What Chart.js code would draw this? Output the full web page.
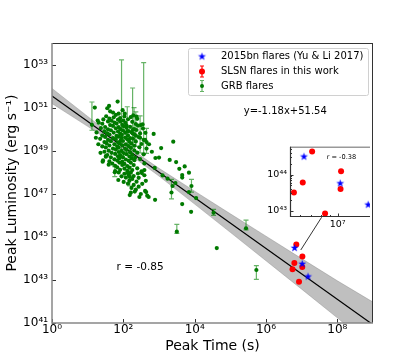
<!DOCTYPE html>
<html>
<head>
<meta charset="utf-8">
<script src="https://cdn.jsdelivr.net/npm/chart.js@4"></script>
<style>
html,body{margin:0;padding:0;background:#fff;}
#wrap{position:relative;width:415px;height:363px;overflow:hidden;}
#main{position:absolute;left:0;top:0;}
#inset{position:absolute;left:258px;top:138px;z-index:2;}
</style>
</head>
<body>
<div id="wrap">
<canvas id="main" width="415" height="363" style="width:415px;height:363px"></canvas>
<canvas id="inset" width="117" height="95" style="width:117px;height:95px"></canvas>
</div>
<script>
// ---------- data (log10 values) ----------
const legendLabels = ['2015bn flares (Yu & Li 2017)', 'SLSN flares in this work', 'GRB flares'];

// GRB flares: log10 peak time (s)
const grbLogTime = [
  1.55,
  1.63, 1.98,
  1.71, 1.87,
  1.52, 1.79, 2.03, 2.28,
  1.61, 1.73, 1.91, 2.21, 2.39,
  1.44, 1.67, 1.85, 2.00, 2.13,
  1.31, 1.57, 1.75, 1.91, 2.06, 2.25,
  1.41, 1.63, 1.81, 1.97, 2.09, 2.35, 2.49,
  1.49, 1.71, 1.87, 2.01, 2.19, 2.41,
  1.37, 1.57, 1.79, 1.92, 2.09, 2.27, 2.55,
  1.47, 1.65, 1.85, 1.99, 2.15, 2.37,
  1.25, 1.55, 1.73, 1.91, 2.05, 2.23, 2.47,
  1.41, 1.61, 1.81, 1.96, 2.13, 2.31,
  1.23, 1.49, 1.71, 1.87, 2.05, 2.19, 2.43,
  1.35, 1.57, 1.79, 1.93, 2.11, 2.27, 2.61,
  1.47, 1.65, 1.85, 1.99, 2.17, 2.35,
  1.53, 1.75, 1.89, 2.07, 2.23, 2.51,
  1.41, 1.61, 1.83, 1.97, 2.15, 2.31,
  1.51, 1.71, 1.87, 2.05, 2.21, 2.45, 2.65,
  1.59, 1.79, 1.95, 2.09, 2.31,
  1.47, 1.67, 1.87, 2.01, 2.19, 2.39,
  1.55, 1.77, 1.91, 2.09, 2.25, 2.57,
  1.51, 1.65, 1.85, 1.99, 2.17, 2.33,
  1.75, 1.89, 2.07, 2.23, 2.47,
  1.43, 1.61, 1.83, 1.97, 2.15, 2.31,
  1.69, 1.89, 2.03, 2.21, 2.59,
  1.59, 1.77, 1.97, 2.11, 2.29,
  1.83, 2.03, 2.17, 2.39,
  1.77, 1.91, 2.11, 2.25, 2.51,
  1.87, 2.03, 2.21, 2.41,
  1.95, 2.15, 2.29, 2.59,
  2.07, 2.25, 2.43,
  2.01, 2.17, 2.37, 2.63,
  2.13, 2.29, 2.53,
  2.23, 2.43,
  2.35, 2.61,
  2.21, 2.49,
  2.45, 2.67,
  1.20, 1.84, 1.60, 1.28, 2.04, 2.37, 2.54, 2.62, 2.85, 3.06,
  3.40, 2.90, 3.00, 3.30, 3.48, 3.57, 3.72, 3.84, 2.88, 2.59,
  2.52, 3.65, 3.65, 3.10, 3.24, 3.38, 3.84, 4.04, 3.65, 2.89,
  2.71, 2.64, 2.18, 3.90, 4.62, 1.86, 2.32, 3.46, 1.42, 1.51,
  1.36, 1.30, 2.72, 2.80
];
// GRB flares: log10 peak luminosity (erg/s)
const grbLogLum = [
  50.97,
  50.83, 50.88,
  50.77, 50.72,
  50.60, 50.66, 50.59, 50.64,
  50.49, 50.55, 50.51, 50.56, 50.48,
  50.45, 50.39, 50.44, 50.40, 50.46,
  50.30, 50.36, 50.31, 50.35, 50.29, 50.34,
  50.25, 50.19, 50.26, 50.20, 50.17, 50.24, 50.19,
  50.10, 50.15, 50.09, 50.14, 50.11, 50.16,
  50.05, 49.99, 50.04, 50.00, 50.06, 49.98, 50.03,
  49.90, 49.95, 49.89, 49.94, 49.91, 49.96,
  49.85, 49.80, 49.84, 49.79, 49.83, 49.86, 49.80,
  49.70, 49.75, 49.69, 49.74, 49.71, 49.76,
  49.60, 49.64, 49.59, 49.65, 49.61, 49.58, 49.63,
  49.55, 49.50, 49.54, 49.49, 49.53, 49.56, 49.50,
  49.40, 49.44, 49.39, 49.45, 49.41, 49.43,
  49.35, 49.30, 49.34, 49.29, 49.33, 49.31,
  49.20, 49.24, 49.19, 49.25, 49.21, 49.23,
  49.15, 49.10, 49.14, 49.09, 49.13, 49.16, 49.10,
  49.00, 49.05, 48.99, 49.04, 49.01,
  48.95, 48.90, 48.94, 48.89, 48.93, 48.91,
  48.80, 48.85, 48.79, 48.84, 48.81, 48.83,
  48.75, 48.69, 48.74, 48.70, 48.73, 48.68,
  48.60, 48.65, 48.59, 48.64, 48.61,
  48.55, 48.50, 48.54, 48.49, 48.53, 48.56,
  48.40, 48.45, 48.39, 48.44, 48.41,
  48.35, 48.30, 48.34, 48.29, 48.33,
  48.23, 48.17, 48.22, 48.18,
  48.05, 48.11, 48.06, 48.10, 48.04,
  47.99, 47.93, 47.98, 47.94,
  47.81, 47.87, 47.82, 47.86,
  47.75, 47.69, 47.74,
  47.55, 47.61, 47.56, 47.60,
  47.47, 47.41, 47.46,
  47.27, 47.33,
  47.19, 47.13,
  47.05, 46.99,
  46.85, 46.91,
  51.00, 51.28, 51.08, 50.40, 50.72, 50.58, 50.22, 49.83, 49.78, 49.12,
  49.42, 48.66, 48.68, 48.57, 48.47, 48.16, 48.27, 47.98, 48.20, 48.10,
  47.96, 47.87, 47.75, 47.85, 47.70, 47.36, 47.08, 46.80, 46.52, 46.72,
  46.85, 47.08, 46.94, 46.16, 44.48, 47.64, 47.10, 47.50, 48.49, 48.72,
  48.90, 49.30, 49.30, 48.95
];

// GRB flares that carry visible error bars (log10 values)
const grbErrLogTime = [1.12, 1.95, 2.26, 2.57, 2.11, 2.30, 2.35, 2.47, 2.65, 1.76, 2.13, 2.18, 3.91, 3.35, 4.53, 5.44, 3.50, 5.73];
const grbErrLogLum  = [50.20, 49.60, 49.80, 49.50, 49.90, 50.00, 49.70, 49.60, 49.40, 48.00, 47.95, 47.80, 47.36, 47.06, 46.12, 45.40, 45.24, 43.46];
const grbErrLogLow  = [49.95, 48.90, 49.10, 48.85, 49.30, 49.40, 49.20, 48.90, 48.88, 47.80, 47.72, 47.36, 47.08, 46.76, 46.00, 45.32, 45.16, 43.03];
const grbErrLogHigh = [51.26, 53.22, 51.91, 53.09, 51.04, 51.00, 50.80, 50.62, 50.04, 48.26, 48.26, 48.26, 47.67, 47.67, 46.28, 45.78, 45.58, 43.66];

// SLSN flares (this work)
const slsnLogTime = [6.850, 7.020, 6.795, 6.743, 7.017, 6.926];
const slsnLogLum  = [44.64, 44.09, 43.78, 43.50, 43.60, 42.92];

// 2015bn flares (Yu & Li 2017)
const bnLogTime = [6.802, 7.015, 7.179];
const bnLogLum  = [44.51, 43.77, 43.18];

// best fit y = -1.18x + 51.54 and its confidence band
const fitLogTime = [0, 9];
const fitLogLum  = [51.54, 40.92];
const bandLogTime  = [0, 1, 2, 3, 4, 5, 6, 7, 8, 9];
const bandLogUpper = [51.89, 50.59, 49.32, 48.18, 47.12, 46.07, 45.03, 43.99, 42.96, 41.97];
const bandLogLower = [51.19, 50.13, 49.04, 47.82, 46.52, 45.21, 43.89, 42.57, 41.24, 39.87];

// tick labels
const tickExpX = [0, 2, 4, 6, 8];
const tickExpY = [41, 43, 45, 47, 49, 51, 53];
const insetTickExpX = [7];
const insetTickExpY = [43, 44];
const insetMinorX = [6e6, 7e6, 8e6, 9e6];
const insetMinorY = [2e43, 3e43, 4e43, 5e43, 6e43, 7e43, 8e43, 9e43, 2e44, 3e44, 4e44, 5e44];

const fitText = 'y=-1.18x+51.54';
const rMainText = 'r = -0.85';
const rInsetText = 'r = -0.38';

// ---------- helpers ----------
Chart.defaults.font.family = "'DejaVu Sans', sans-serif";
Chart.defaults.color = '#000';
const P = v => Math.pow(10, v);
const xy = (ts, ls) => ts.map((t, i) => ({x: P(t), y: P(ls[i])}));
const SUP = {'0':'⁰','1':'¹','2':'²','3':'³','4':'⁴','5':'⁵','6':'⁶','7':'⁷','8':'⁸','9':'⁹','-':'⁻'};
const powLabel = v => '10' + String(Math.round(Math.log10(v))).split('').map(c => SUP[c]).join('');

function makeStar(r, color) {
  const s = Math.ceil(r * 2 + 2);
  const c = document.createElement('canvas');
  c.width = s; c.height = s;
  const g = c.getContext('2d');
  g.fillStyle = color;
  g.beginPath();
  for (let k = 0; k < 10; k++) {
    const rr = k % 2 ? r * 0.40 : r;
    const a = -Math.PI / 2 + k * Math.PI / 5;
    g.lineTo(s / 2 + rr * Math.cos(a), s / 2 + 0.6 + rr * Math.sin(a));
  }
  g.closePath();
  g.fill();
  return c;
}
const starImg = makeStar(4.2, '#0000ff');

const GREEN = '#007a00';
const GREEN_ERR = 'rgba(0,128,0,0.6)';
const RED = '#ff0000';

function errBar(ctx, x, y1, y2, cap) {
  ctx.beginPath();
  ctx.moveTo(x, y1); ctx.lineTo(x, y2);
  ctx.moveTo(x - cap, y1); ctx.lineTo(x + cap, y1);
  ctx.moveTo(x - cap, y2); ctx.lineTo(x + cap, y2);
  ctx.stroke();
}

const errorBarPlugin = {
  id: 'grbErrorBars',
  beforeDatasetDraw(chart, args) {
    if (chart.data.datasets[args.index].label !== legendLabels[2]) return;
    const {ctx, chartArea: a, scales: {x, y}} = chart;
    ctx.save();
    ctx.beginPath(); ctx.rect(a.left, a.top, a.right - a.left, a.bottom - a.top); ctx.clip();
    ctx.strokeStyle = GREEN_ERR; ctx.lineWidth = 1.2;
    grbErrLogTime.forEach((t, i) => {
      const px = x.getPixelForValue(P(t));
      errBar(ctx, px, y.getPixelForValue(P(grbErrLogLow[i])), y.getPixelForValue(P(grbErrLogHigh[i])), 2.5);
    });
    ctx.restore();
  }
};

const mainDecor = {
  id: 'mainDecor',
  afterDraw(chart) {
    const {ctx, chartArea: a, scales: {x, y}} = chart;
    ctx.save();
    // connector from data cluster to inset
    ctx.strokeStyle = '#000'; ctx.lineWidth = 0.8;
    ctx.beginPath();
    ctx.moveTo(x.getPixelForValue(P(6.975)), y.getPixelForValue(P(44.39)));
    ctx.lineTo(x.getPixelForValue(P(7.56)), y.getPixelForValue(P(45.91)));
    ctx.stroke();
    // inward tick marks
    ctx.strokeStyle = '#333'; ctx.lineWidth = 1;
    x.ticks.forEach(t => { const px = Math.round(x.getPixelForValue(t.value)) + 0.5; ctx.beginPath(); ctx.moveTo(px, a.bottom); ctx.lineTo(px, a.bottom - 4); ctx.stroke(); });
    y.ticks.forEach(t => { const py = Math.round(y.getPixelForValue(t.value)) + 0.5; ctx.beginPath(); ctx.moveTo(a.left, py); ctx.lineTo(a.left + 4, py); ctx.stroke(); });
    // spines
    ctx.strokeStyle = '#333'; ctx.lineWidth = 1;
    ctx.beginPath(); ctx.moveTo(a.left, a.top + 0.5); ctx.lineTo(a.right, a.top + 0.5); ctx.moveTo(a.right - 0.5, a.top); ctx.lineTo(a.right - 0.5, a.bottom); ctx.stroke();
    ctx.strokeStyle = '#888'; ctx.lineWidth = 1.5;
    ctx.beginPath(); ctx.moveTo(a.left, a.top); ctx.lineTo(a.left, a.bottom); ctx.lineTo(a.right, a.bottom); ctx.stroke();
    // annotations
    ctx.fillStyle = '#000'; ctx.textAlign = 'center'; ctx.textBaseline = 'middle';
    ctx.font = "10px 'DejaVu Sans'";
    ctx.fillText(fitText, x.getPixelForValue(P(6.54)), y.getPixelForValue(P(50.81)));
    ctx.font = "10.5px 'DejaVu Sans'";
    ctx.fillText(rMainText, x.getPixelForValue(P(2.47)), y.getPixelForValue(P(43.61)));
    // legend
    const L = 188, T = 48, W = 180, H = 47;
    ctx.fillStyle = 'rgba(255,255,255,0.85)'; ctx.strokeStyle = '#d0d0d0'; ctx.lineWidth = 1;
    ctx.beginPath(); ctx.roundRect(L + 0.5, T + 0.5, W, H, 2); ctx.fill(); ctx.stroke();
    const rows = [56, 71.5, 86], mx = 202, tx = 221;
    ctx.drawImage(starImg, mx - starImg.width / 2, rows[0] - starImg.height / 2);
    ctx.strokeStyle = RED; ctx.lineWidth = 1.2; errBar(ctx, mx, rows[1] - 5.5, rows[1] + 5.5, 2);
    ctx.fillStyle = RED; ctx.beginPath(); ctx.arc(mx, rows[1], 3, 0, 2 * Math.PI); ctx.fill();
    ctx.strokeStyle = GREEN_ERR; errBar(ctx, mx, rows[2] - 5.5, rows[2] + 5.5, 2);
    ctx.fillStyle = GREEN; ctx.beginPath(); ctx.arc(mx, rows[2], 2, 0, 2 * Math.PI); ctx.fill();
    ctx.fillStyle = '#000'; ctx.textAlign = 'left'; ctx.font = "10px 'DejaVu Sans'";
    legendLabels.forEach((s, i) => ctx.fillText(s, tx, rows[i]));
    ctx.restore();
  }
};

const hiddenGrid = {display: false, drawTicks: false};

new Chart(document.getElementById('main'), {
  type: 'scatter',
  data: {
    datasets: [
      {type: 'line', label: 'band upper', data: xy(bandLogTime, bandLogUpper), fill: '+1',
       backgroundColor: 'rgba(128,128,128,0.5)', borderColor: 'rgba(120,120,120,0.6)', borderWidth: 0.6, pointRadius: 0, order: 10},
      {type: 'line', label: 'band lower', data: xy(bandLogTime, bandLogLower), fill: false,
       borderColor: 'rgba(120,120,120,0.6)', borderWidth: 0.6, pointRadius: 0, order: 10},
      {type: 'line', label: 'fit', data: xy(fitLogTime, fitLogLum), borderColor: '#000', borderWidth: 1.2, pointRadius: 0, fill: false, order: 9},
      {label: legendLabels[2], data: xy(grbLogTime.concat(grbErrLogTime), grbLogLum.concat(grbErrLogLum)),
       backgroundColor: GREEN, borderWidth: 0, pointRadius: 2.1, order: 3},
      {label: legendLabels[1], data: xy(slsnLogTime, slsnLogLum), backgroundColor: RED, borderWidth: 0, pointRadius: 3, order: 2},
      {label: legendLabels[0], data: xy(bnLogTime, bnLogLum), pointStyle: starImg, pointRadius: 4, order: 1}
    ]
  },
  options: {
    responsive: false, animation: false, devicePixelRatio: 1, events: [],
    layout: {padding: {left: 0, top: 43, right: 42, bottom: 0}},
    plugins: {legend: {display: false}, tooltip: {enabled: false}},
    scales: {
      x: {
        type: 'logarithmic', position: 'bottom', min: P(0), max: P(9),
        grid: hiddenGrid, border: {display: false},
        afterBuildTicks: s => { s.ticks = tickExpX.map(e => ({value: P(e)})); },
        afterFit: s => { s.height = 40; },
        ticks: {autoSkip: false, maxRotation: 0, padding: 0, color: '#000', font: {size: 12}, callback: v => powLabel(v)},
        title: {display: true, text: 'Peak Time (s)', color: '#000', font: {size: 14}, padding: {top: 0, bottom: 8}}
      },
      y: {
        type: 'logarithmic', position: 'left', min: P(41), max: P(54),
        grid: hiddenGrid, border: {display: false},
        afterBuildTicks: s => { s.ticks = tickExpY.map(e => ({value: P(e)})); },
        afterFit: s => { s.width = 52; },
        ticks: {autoSkip: false, padding: 4, color: '#000', font: {size: 12}, callback: v => powLabel(v)},
        title: {display: true, text: 'Peak Luminosity (erg s⁻¹)', color: '#000', font: {size: 14}, padding: {top: 4, bottom: 0}}
      }
    }
  },
  plugins: [errorBarPlugin, mainDecor]
});

// ---------- inset ----------
const insetDecor = {
  id: 'insetDecor',
  beforeDraw(chart) {
    const {ctx, chartArea: a} = chart;
    ctx.save(); ctx.fillStyle = '#fff'; ctx.fillRect(a.left, a.top, a.right - a.left, a.bottom - a.top); ctx.restore();
  },
  afterDraw(chart) {
    const {ctx, chartArea: a, scales: {x, y}} = chart;
    ctx.save();
    ctx.strokeStyle = '#333'; ctx.lineWidth = 1;
    const tickX = (v, len) => { const px = Math.round(x.getPixelForValue(v)) + 0.5; ctx.beginPath(); ctx.moveTo(px, a.bottom); ctx.lineTo(px, a.bottom - len); ctx.stroke(); };
    const tickY = (v, len) => { const py = Math.round(y.getPixelForValue(v)) + 0.5; ctx.beginPath(); ctx.moveTo(a.left, py); ctx.lineTo(a.left + len, py); ctx.stroke(); };
    x.ticks.forEach(t => tickX(t.value, 3.5));
    y.ticks.forEach(t => tickY(t.value, 3.5));
    insetMinorX.forEach(v => tickX(v, 2));
    insetMinorY.forEach(v => tickY(v, 2));
    ctx.strokeStyle = '#999'; ctx.lineWidth = 1.5;
    ctx.beginPath(); ctx.moveTo(a.left, a.top + 0.5); ctx.lineTo(a.right, a.top + 0.5); ctx.stroke();
    ctx.strokeStyle = '#333'; ctx.lineWidth = 1.2;
    ctx.beginPath(); ctx.moveTo(a.left + 0.5, a.top); ctx.lineTo(a.left + 0.5, a.bottom - 0.5); ctx.lineTo(a.right, a.bottom - 0.5); ctx.stroke();
    ctx.fillStyle = '#000'; ctx.textAlign = 'center'; ctx.textBaseline = 'middle';
    ctx.font = "6.6px 'DejaVu Sans'";
    ctx.fillText(rInsetText, x.getPixelForValue(P(7.022)), y.getPixelForValue(P(44.485)));
    ctx.restore();
  }
};

new Chart(document.getElementById('inset'), {
  type: 'scatter',
  data: {
    datasets: [
      {label: legendLabels[1], data: xy(slsnLogTime, slsnLogLum), backgroundColor: RED, borderWidth: 0, pointRadius: 3, order: 2},
      {label: legendLabels[0], data: xy(bnLogTime, bnLogLum), pointStyle: starImg, pointRadius: 4, order: 1}
    ]
  },
  options: {
    responsive: false, animation: false, devicePixelRatio: 1, events: [],
    layout: {padding: {left: 0, top: 6, right: 3, bottom: 0}},
    plugins: {legend: {display: false}, tooltip: {enabled: false}},
    scales: {
      x: {
        type: 'logarithmic', position: 'bottom', min: P(6.72), max: P(7.19),
        grid: hiddenGrid, border: {display: false},
        afterBuildTicks: s => { s.ticks = insetTickExpX.map(e => ({value: P(e)})); },
        afterFit: s => { s.height = 16; },
        ticks: {autoSkip: false, maxRotation: 0, padding: 2, color: '#000', font: {size: 9.5}, callback: v => powLabel(v)}
      },
      y: {
        type: 'logarithmic', position: 'left', min: P(42.825), max: P(44.77),
        grid: hiddenGrid, border: {display: false},
        afterBuildTicks: s => { s.ticks = insetTickExpY.map(e => ({value: P(e)})); },
        afterFit: s => { s.width = 32; },
        ticks: {autoSkip: false, padding: 3, color: '#000', font: {size: 9.5}, callback: v => powLabel(v)}
      }
    }
  },
  plugins: [insetDecor]
});
</script>
</body>
</html>
